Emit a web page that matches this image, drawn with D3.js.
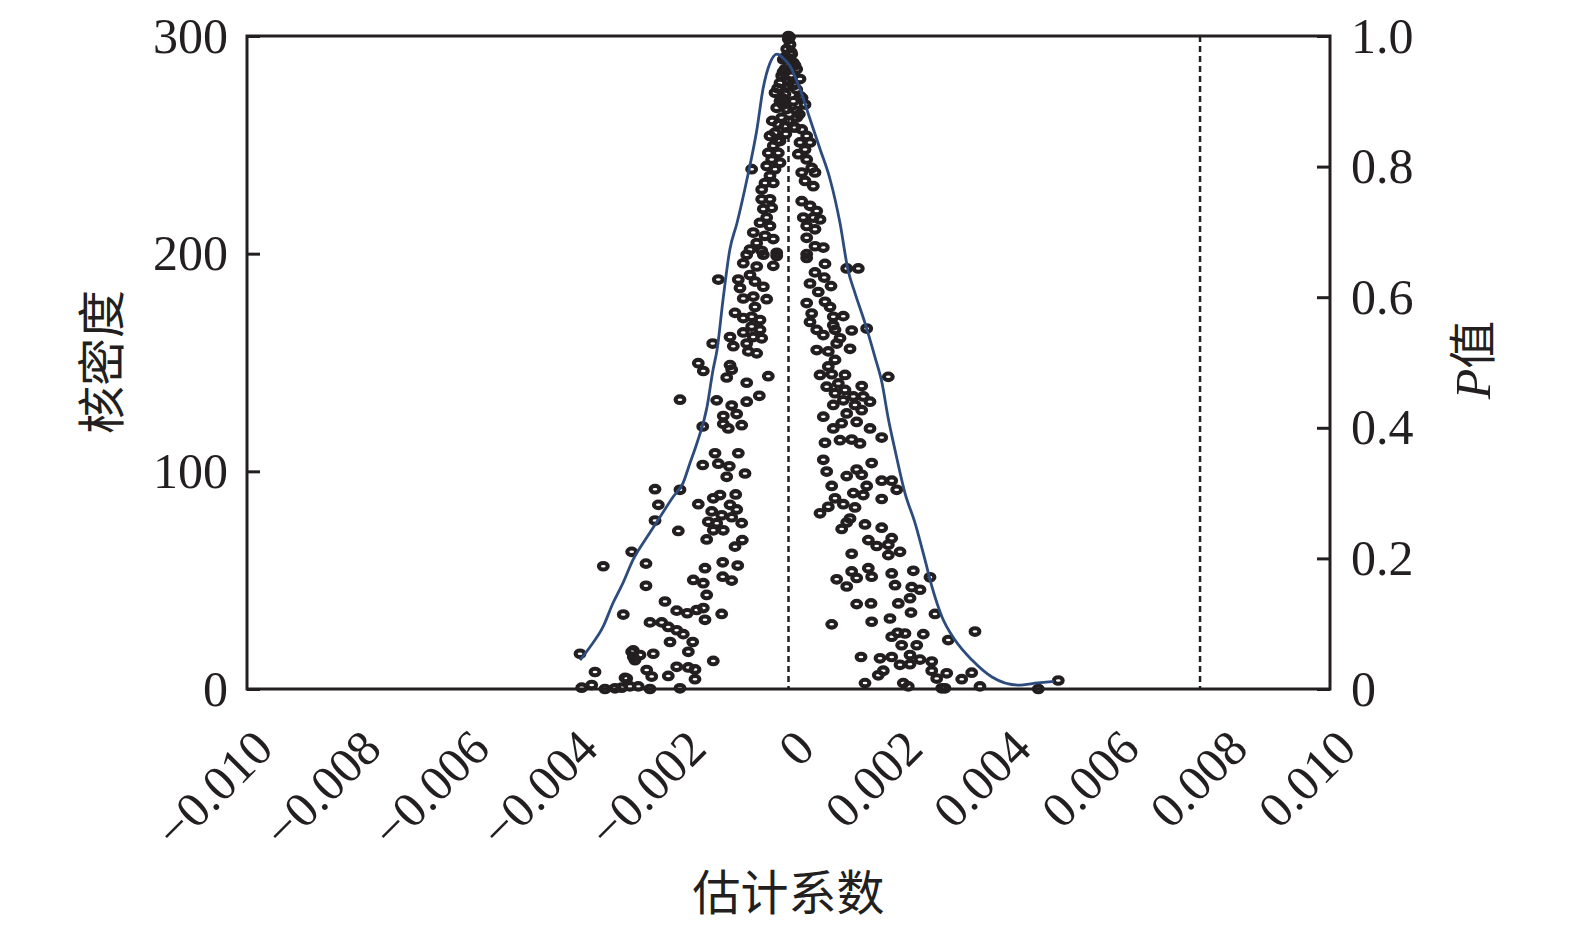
<!DOCTYPE html>
<html>
<head>
<meta charset="utf-8">
<script src="https://cdn.jsdelivr.net/npm/d3@7/dist/d3.min.js"></script>
<style>
  html, body { margin: 0; padding: 0; background: #fff; }
  svg { display: block; }
</style>
</head>
<body>
<svg id="chart" width="1575" height="925"></svg>
<script>
// ---------- DATA ----------
const xTicks = [-0.010, -0.008, -0.006, -0.004, -0.002, 0, 0.002, 0.004, 0.006, 0.008, 0.010];
const leftTicks = [0, 100, 200, 300];
const rightTicks = [0, 0.2, 0.4, 0.6, 0.8, 1.0];
const refLines = [0, 0.0076];

// kernel density curve (left axis)
const densityX = [-3.85e-3,-3.666e-3,-3.426e-3,-3.241e-3,-3.057e-3,-2.872e-3,-2.613e-3,-2.373e-3,-2.133e-3,-1.948e-3,
  -1.819e-3,-1.69e-3,-1.505e-3,-1.394e-3,-1.32e-3,-1.21e-3,-1.085e-3,-0.951e-3,-0.766e-3,-0.582e-3,-0.471e-3,-0.342e-3,
  -0.212e-3,-0.102e-3,0.028e-3,0.212e-3,0.397e-3,0.582e-3,0.766e-3,0.951e-3,1.099e-3,1.228e-3,1.413e-3,1.597e-3,1.727e-3,
  1.837e-3,1.967e-3,2.151e-3,2.336e-3,2.521e-3,2.65e-3,2.835e-3,3.075e-3,3.389e-3,3.758e-3,4.238e-3,4.607e-3,4.9e-3];
const densityY = [13.3,19.3,28.5,39.5,48.7,59.3,69.8,79.0,88.2,94.6,
  103.8,113.0,129.6,146.6,155.7,178.7,201.7,214.1,234.3,257.3,275.6,287.6,
  291.7,289.9,286.2,275.6,261.9,248.1,234.3,214.1,192.5,181.9,168.1,152.5,140.6,
  125.0,109.8,90.0,76.3,59.3,46.9,33.1,22.5,13.3,5.5,1.8,2.8,3.5];

// estimated coefficient (x) for each draw
const coefValues = [
  -1.584e-3,-1.296e-3,-1.093e-3,-1.141e-3,-0.803e-3,-2.465e-3,-2.004e-3,-2.404e-3,-1.666e-3,-1.389e-3,
  -1.265e-3,-0.975e-3,-1.080e-3,-0.957e-3,-1.418e-3,-1.234e-3,-1.049e-3,-1.481e-3,-1.326e-3,-0.864e-3,
  -2.465e-3,-2.035e-3,-1.389e-3,-1.204e-3,-1.511e-3,-0.853e-3,-0.988e-3,-2.896e-3,-3.420e-3,-2.632e-3,
  -1.215e-3,-0.938e-3,-1.542e-3,-1.758e-3,-1.573e-3,-1.215e-3,-1.049e-3,-2.632e-3,-1.511e-3,-2.281e-3,
  -2.065e-3,-1.869e-3,-1.695e-3,-1.573e-3,-1.542e-3,-1.234e-3,-3.051e-3,-2.558e-3,-2.342e-3,-2.220e-3,
  -2.065e-3,-1.943e-3,-2.188e-3,-1.769e-3,-1.850e-3,-2.866e-3,-2.742e-3,-2.497e-3,-2.835e-3,-1.389e-3,
  -3.850e-3,-3.573e-3,-2.619e-3,-2.065e-3,-1.850e-3,-1.727e-3,-2.220e-3,-1.727e-3,-2.526e-3,-2.988e-3,
  -3.819e-3,-3.634e-3,-3.389e-3,-3.204e-3,-3.080e-3,-2.927e-3,-2.774e-3,-2.558e-3,-2.004e-3,-2.896e-3,
  -2.866e-3,-3.019e-3,
  -1.296e-3,-0.927e-3,-0.772e-3,-0.465e-3,-0.218e-3,-0.835e-3,-0.587e-3,-0.281e-3,-0.711e-3,-0.619e-3,
  -0.465e-3,-0.896e-3,-0.835e-3,-0.650e-3,-0.403e-3,-0.619e-3,-0.988e-3,-0.835e-3,-0.680e-3,-0.526e-3,
  -0.680e-3,-0.526e-3,-0.835e-3,-1.080e-3,-0.650e-3,-0.495e-3,-0.772e-3,-1.019e-3,-1.400e-3,-0.742e-3,
  -0.587e-3,-1.666e-3,-1.573e-3,-1.080e-3,-1.049e-3,-1.141e-3,-0.772e-3,-0.373e-3,-2.004e-3,-1.326e-3,
  -1.049e-3,-0.772e-3,-0.539e-3,-1.204e-3,-0.957e-3,-1.204e-3,-1.112e-3,-0.864e-3,-1.584e-3,-1.357e-3,
  -0.927e-3,
  -0.004e-3,0.028e-3,-0.033e-3,0.059e-3,-0.096e-3,0.089e-3,-0.065e-3,0.151e-3,-0.126e-3,0.059e-3,
  0.212e-3,-0.157e-3,-0.004e-3,0.151e-3,-0.249e-3,-0.065e-3,0.212e-3,-0.157e-3,0.089e-3,0.305e-3,
  -0.218e-3,-0.033e-3,0.151e-3,-0.126e-3,-0.188e-3,-0.065e-3,-0.249e-3,-0.342e-3,-0.157e-3,-0.281e-3,
  -0.373e-3,-0.188e-3,-0.310e-3,-0.157e-3,-0.403e-3,-0.249e-3,-0.680e-3,-0.342e-3,-0.434e-3,-0.281e-3,
  -0.495e-3,-0.495e-3,-0.342e-3,-0.465e-3,-0.310e-3,-0.403e-3,-0.526e-3,-0.342e-3,-0.650e-3,-0.434e-3,
  -0.587e-3,-0.281e-3,-0.711e-3,-0.495e-3,-0.218e-3,
  0.000e-3,0.020e-3,0.050e-3,-0.060e-3,0.120e-3,-0.100e-3,0.000e-3,0.100e-3,-0.200e-3,0.250e-3,
  -0.100e-3,0.200e-3,-0.300e-3,0.000e-3,0.100e-3,-0.050e-3,-0.200e-3,0.150e-3,-0.120e-3,0.040e-3,
  0.120e-3,0.244e-3,0.336e-3,0.212e-3,0.397e-3,0.305e-3,0.181e-3,0.336e-3,0.428e-3,0.244e-3,
  0.489e-3,0.305e-3,0.458e-3,0.244e-3,0.397e-3,0.521e-3,0.273e-3,0.458e-3,0.582e-3,0.336e-3,
  0.489e-3,0.336e-3,0.489e-3,0.643e-3,0.336e-3,
  0.336e-3,0.674e-3,1.075e-3,1.289e-3,0.489e-3,0.661e-3,0.397e-3,0.785e-3,0.550e-3,0.336e-3,
  0.674e-3,0.766e-3,0.428e-3,0.827e-3,1.012e-3,0.397e-3,0.827e-3,0.521e-3,0.643e-3,0.859e-3,
  1.167e-3,1.444e-3,0.951e-3,0.890e-3,0.521e-3,0.735e-3,1.136e-3,0.859e-3,0.735e-3,0.582e-3,
  0.798e-3,1.043e-3,1.843e-3,0.705e-3,0.920e-3,1.352e-3,0.859e-3,1.043e-3,1.197e-3,1.381e-3,
  0.827e-3,1.012e-3,1.228e-3,1.505e-3,1.075e-3,1.352e-3,0.643e-3,1.259e-3,0.982e-3,0.827e-3,
  1.505e-3,0.951e-3,1.167e-3,1.320e-3,0.674e-3,1.721e-3,0.643e-3,1.536e-3,1.259e-3,
  0.705e-3,1.075e-3,1.352e-3,1.721e-3,1.906e-3,1.998e-3,0.798e-3,1.444e-3,1.197e-3,1.381e-3,
  0.859e-3,1.721e-3,1.012e-3,0.735e-3,1.228e-3,0.582e-3,1.136e-3,1.075e-3,0.982e-3,1.413e-3,
  1.721e-3,1.474e-3,1.629e-3,1.906e-3,1.843e-3,2.059e-3,1.843e-3,1.167e-3,1.167e-3,1.474e-3,
  1.536e-3,0.890e-3,1.259e-3,1.075e-3,1.906e-3,2.305e-3,2.613e-3,1.967e-3,2.275e-3,2.428e-3,
  2.244e-3,2.028e-3,1.259e-3,1.524e-3,2.262e-3,2.705e-3,1.536e-3,1.874e-3,0.798e-3,2.017e-3,
  2.151e-3,2.489e-3,2.951e-3,3.444e-3,1.906e-3,2.090e-3,2.368e-3,1.339e-3,1.690e-3,1.906e-3,
  2.244e-3,2.428e-3,2.645e-3,2.059e-3,2.244e-3,1.751e-3,2.645e-3,2.922e-3,3.383e-3,1.658e-3,
  2.737e-3,3.199e-3,1.413e-3,2.120e-3,2.212e-3,2.890e-3,2.829e-3,3.536e-3,4.613e-3,4.982e-3
];
// P value for each draw (right axis)
const pValues = [
  0.343,0.345,0.341,0.325,0.330,0.306,0.305,0.282,0.283,0.292,
  0.297,0.298,0.282,0.275,0.272,0.266,0.263,0.256,0.254,0.254,
  0.258,0.242,0.243,0.243,0.229,0.228,0.218,0.210,0.188,0.192,
  0.194,0.189,0.185,0.167,0.162,0.172,0.166,0.158,0.144,0.134,
  0.120,0.116,0.121,0.124,0.106,0.115,0.114,0.102,0.102,0.095,
  0.090,0.084,0.072,0.072,0.057,0.059,0.052,0.054,0.044,0.043,
  0.054,0.026,0.029,0.034,0.033,0.030,0.020,0.015,0.019,0.016,
  0.002,0.006,0.000,0.001,0.002,0.004,0.004,0.000,0.001,0.057,
  0.049,0.017,
  0.627,0.627,0.665,0.665,0.663,0.652,0.647,0.648,0.634,0.624,
  0.616,0.614,0.598,0.601,0.597,0.585,0.576,0.568,0.570,0.565,
  0.555,0.550,0.546,0.539,0.539,0.537,0.529,0.525,0.529,0.517,
  0.514,0.499,0.487,0.496,0.489,0.477,0.469,0.479,0.443,0.442,
  0.434,0.440,0.449,0.418,0.421,0.406,0.399,0.404,0.402,0.361,
  0.361,
  0.995,0.987,0.980,0.972,0.964,0.959,0.949,0.949,0.939,0.939,
  0.934,0.928,0.923,0.918,0.913,0.911,0.908,0.900,0.900,0.895,
  0.890,0.888,0.885,0.875,0.865,0.862,0.852,0.847,0.839,0.832,
  0.821,0.821,0.811,0.806,0.801,0.796,0.796,0.786,0.775,0.775,
  0.765,0.750,0.750,0.735,0.737,0.722,0.714,0.709,0.699,0.694,
  0.683,0.689,0.673,0.671,0.668,
  1.000,0.998,0.975,0.968,0.955,0.945,0.930,0.925,0.920,0.905,
  0.895,0.880,0.870,0.870,0.860,0.850,0.840,0.875,0.905,0.940,
  0.860,0.857,0.847,0.837,0.837,0.826,0.819,0.811,0.798,0.791,
  0.791,0.778,0.770,0.747,0.740,0.732,0.722,0.722,0.719,0.709,
  0.704,0.691,0.678,0.676,0.666,
  0.660,0.651,0.644,0.644,0.638,0.630,0.621,0.617,0.608,0.591,
  0.593,0.585,0.575,0.570,0.571,0.562,0.557,0.550,0.542,0.550,
  0.549,0.552,0.537,0.529,0.519,0.517,0.521,0.504,0.494,0.481,
  0.482,0.481,0.478,0.463,0.468,0.464,0.453,0.458,0.448,0.448,
  0.435,0.442,0.435,0.440,0.422,0.427,0.417,0.409,0.407,0.399,
  0.399,0.381,0.382,0.376,0.377,0.385,0.351,0.346,0.336,
  0.333,0.326,0.328,0.319,0.319,0.305,0.311,0.311,0.300,0.297,
  0.292,0.291,0.283,0.279,0.278,0.269,0.261,0.255,0.245,0.252,
  0.247,0.228,0.219,0.231,0.221,0.210,0.205,0.207,0.180,0.185,
  0.172,0.168,0.170,0.157,0.177,0.181,0.171,0.159,0.156,0.152,
  0.139,0.131,0.130,0.131,0.117,0.115,0.103,0.108,0.099,0.086,
  0.085,0.084,0.075,0.088,0.080,0.067,0.067,0.049,0.047,0.049,
  0.052,0.045,0.042,0.037,0.038,0.028,0.028,0.024,0.025,0.021,
  0.016,0.015,0.009,0.009,0.004,0.001,0.001,0.004,0.000,0.013
];

// ---------- LAYOUT ----------
const M = { left: 247, right: 1330, top: 36, bottom: 689 };
const ink = "#231f20";
const curveColor = "#2d4b7d";
const serif = "'Liberation Serif', 'Times New Roman', serif";
const cjk = "'Noto Sans CJK SC', sans-serif";

const svg = d3.select("#chart");

const x = d3.scaleLinear().domain([-0.01, 0.01]).range([M.left, M.right]);
const yL = d3.scaleLinear().domain([0, 300]).range([M.bottom, M.top]);
const yR = d3.scaleLinear().domain([0, 1]).range([M.bottom, M.top]);

// reference dashed lines
svg.append("g").selectAll("line").data(refLines).join("line")
  .attr("x1", d => x(d)).attr("x2", d => x(d))
  .attr("y1", M.top).attr("y2", M.bottom)
  .attr("stroke", ink).attr("stroke-width", 2.5)
  .attr("stroke-dasharray", "6,4");

// scatter points
const pts = coefValues.map((c, i) => ({ c, p: pValues[i] }));
svg.append("g").selectAll("ellipse").data(pts).join("ellipse")
  .attr("cx", d => x(d.c)).attr("cy", d => yR(d.p))
  .attr("rx", 4.4).attr("ry", 3.3)
  .attr("fill", "none").attr("stroke", ink).attr("stroke-width", 4.1);

// density curve
const dens = densityX.map((v, i) => [v, densityY[i]]);
svg.append("path").datum(dens)
  .attr("d", d3.line().x(d => x(d[0])).y(d => yL(d[1])).curve(d3.curveMonotoneX))
  .attr("fill", "none").attr("stroke", curveColor).attr("stroke-width", 2.8);

// frame
svg.append("rect")
  .attr("x", M.left).attr("y", M.top)
  .attr("width", M.right - M.left).attr("height", M.bottom - M.top)
  .attr("fill", "none").attr("stroke", ink).attr("stroke-width", 3);

// left axis
const gL = svg.append("g").attr("transform", `translate(${M.left},0)`)
  .call(d3.axisLeft(yL).tickValues(leftTicks).tickSize(-13).tickSizeOuter(0).tickPadding(19).tickFormat(d3.format("d")));
gL.select(".domain").remove();
gL.selectAll("line").attr("stroke", ink).attr("stroke-width", 3);
gL.selectAll("text").attr("font-family", serif).attr("font-size", 50).attr("fill", ink);

// right axis
const gR = svg.append("g").attr("transform", `translate(${M.right},0)`)
  .call(d3.axisRight(yR).tickValues(rightTicks).tickSize(-13).tickSizeOuter(0).tickPadding(21)
    .tickFormat(d => d === 0 ? "0" : d3.format(".1f")(d)));
gR.select(".domain").remove();
gR.selectAll("line").attr("stroke", ink).attr("stroke-width", 3);
gR.selectAll("text").attr("font-family", serif).attr("font-size", 50).attr("fill", ink);

// bottom axis
const gB = svg.append("g").attr("transform", `translate(0,${M.bottom})`)
  .call(d3.axisBottom(x).tickValues(xTicks).tickSize(0).tickSizeOuter(0)
    .tickFormat(d => d === 0 ? "0" : (d < 0 ? "\u2212" : "") + Math.abs(d).toFixed(3)));
gB.select(".domain").remove();
gB.selectAll("text")
  .attr("x", 0).attr("y", 0).attr("dy", null)
  .attr("text-anchor", "end")
  .attr("transform", "translate(28,62) rotate(-45)")
  .attr("font-family", serif).attr("font-size", 50).attr("fill", ink);

// axis titles
svg.append("text").attr("x", (M.left + M.right) / 2).attr("y", 910)
  .attr("text-anchor", "middle").attr("font-family", cjk).attr("font-size", 48).attr("fill", ink)
  .text("估计系数");
svg.append("text").attr("transform", "translate(119,362) rotate(-90)")
  .attr("text-anchor", "middle").attr("font-family", cjk).attr("font-size", 48).attr("fill", ink)
  .text("核密度");
const rt = svg.append("text").attr("transform", "translate(1490,360) rotate(-90)")
  .attr("text-anchor", "middle").attr("font-size", 48).attr("fill", ink);
rt.append("tspan").attr("font-family", serif).attr("font-style", "italic").attr("font-size", 50).text("P");
rt.append("tspan").attr("font-family", cjk).text("值");
</script>
</body>
</html>
